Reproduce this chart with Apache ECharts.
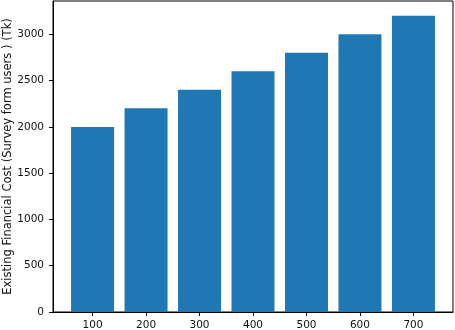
<!DOCTYPE html>
<html>
<head>
<meta charset="utf-8">
<script src="https://cdn.jsdelivr.net/npm/echarts@6/dist/echarts.min.js"></script>
<style>html,body{margin:0;padding:0;background:#fff}#c{width:455px;height:330px}</style>
</head>
<body>
<div id="c"></div>
<script>
const categories = ['100', '200', '300', '400', '500', '600', '700'];
const costs = [2000, 2200, 2400, 2600, 2800, 3000, 3200];
const yTicks = [0, 500, 1000, 1500, 2000, 2500, 3000];
const yLabel = 'Existing Financial Cost (Survey form users ) (Tk)';

const chart = echarts.init(document.getElementById('c'), null, {renderer: 'canvas'});
const font = 'DejaVu Sans';
const xIdx = categories.map((_, i) => i);
chart.setOption({
  animation: false,
  backgroundColor: '#fff',
  grid: {left: 53, right: 2, top: 1, bottom: 18, containLabel: false, outerBoundsMode: 'none',
         show: true, borderColor: '#000', borderWidth: 1, backgroundColor: 'transparent'},
  xAxis: {
    type: 'value', min: -0.74, max: 6.74,
    splitLine: {show: false},
    axisLine: {show: true, onZero: false, lineStyle: {color: '#000', width: 1}},
    axisTick: {show: true, length: 4, lineStyle: {color: '#000'}, customValues: xIdx},
    axisLabel: {customValues: xIdx, formatter: v => categories[Math.round(v)], color: '#111', fontFamily: font, fontSize: 10.5, margin: 8}
  },
  yAxis: {
    type: 'value', min: 0, max: 3360,
    name: yLabel, nameLocation: 'middle', nameGap: 39, nameMoveOverlap: false,
    nameTextStyle: {color: '#111', fontFamily: font, fontSize: 11.5},
    splitLine: {show: false},
    axisLine: {show: true, onZero: false, lineStyle: {color: '#000', width: 1}},
    axisTick: {show: true, length: 4, lineStyle: {color: '#000'}, customValues: yTicks},
    axisLabel: {customValues: yTicks, formatter: v => String(v), color: '#111', fontFamily: font, fontSize: 10.5, margin: 9}
  },
  series: [{
    type: 'bar',
    data: costs.map((v, i) => [xIdx[i], v]),
    barWidth: 43,
    itemStyle: {color: '#1f77b4'}
  }]
});
</script>
</body>
</html>
